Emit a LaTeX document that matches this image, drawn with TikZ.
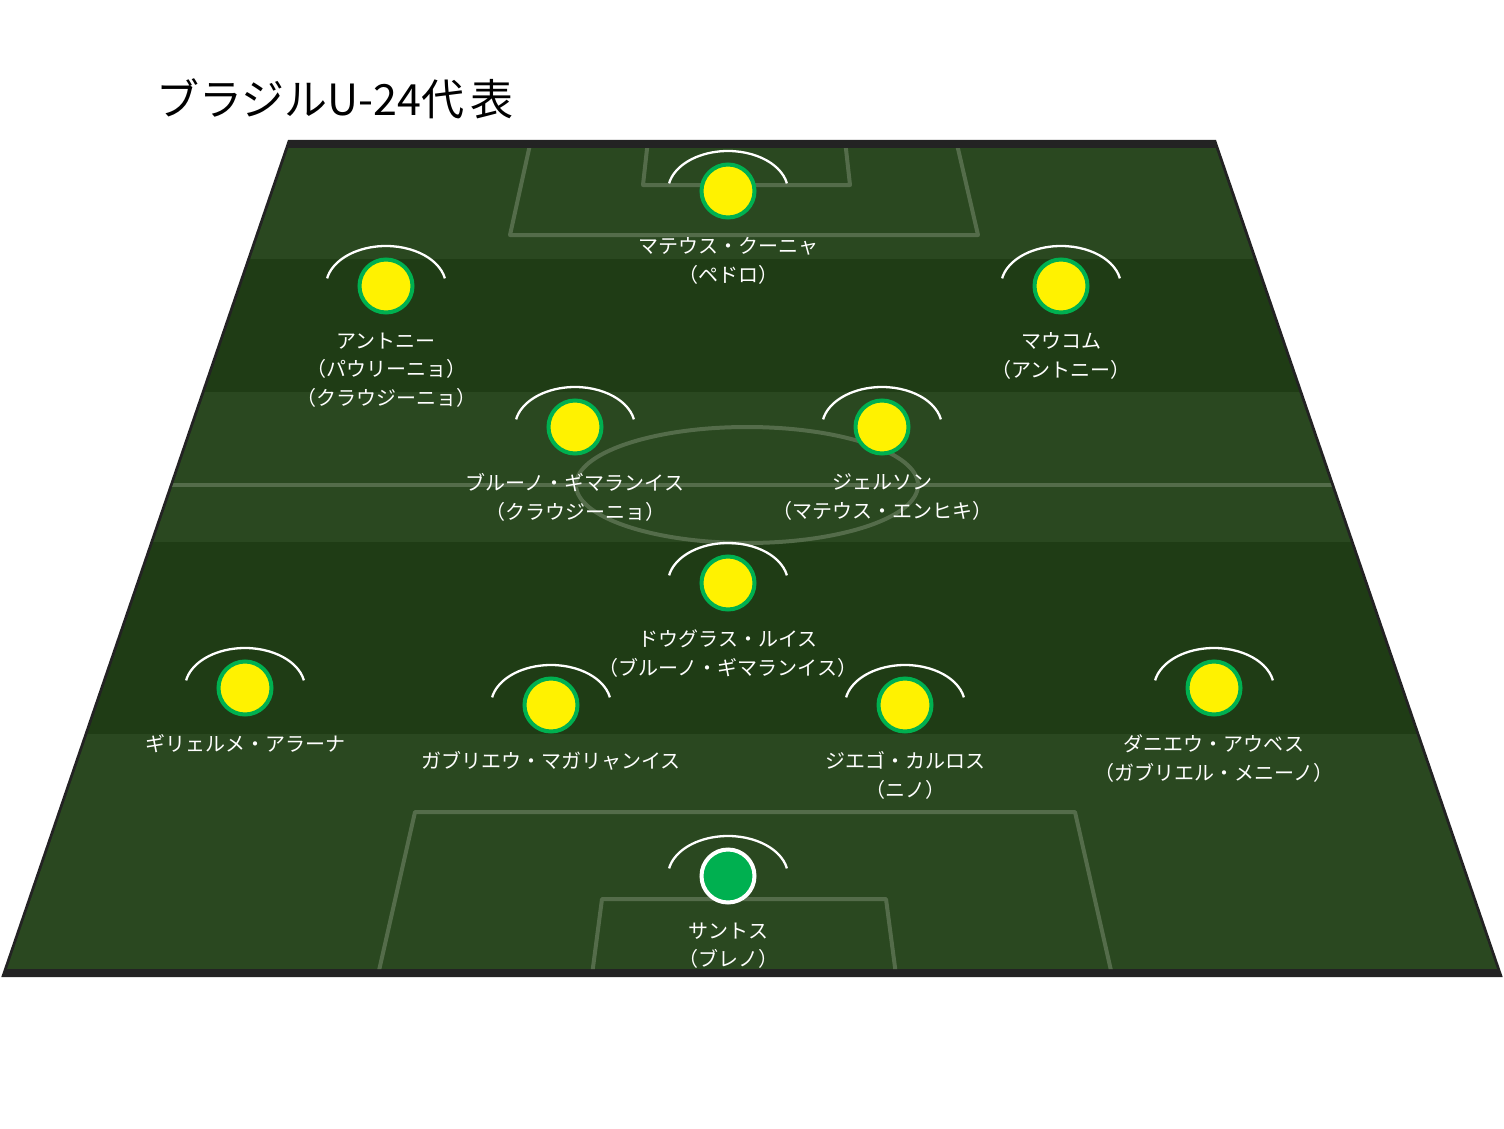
\documentclass[tikz,border=0pt]{standalone}
\usepackage{fontspec}
\setmainfont{Noto Sans CJK JP}
\usetikzlibrary{positioning}

\definecolor{PitchLight}{HTML}{2A4820}
\definecolor{PitchDark}{HTML}{1F3C15}
\definecolor{PitchLine}{HTML}{546C4A}
\definecolor{PitchBorder}{HTML}{232323}
\definecolor{KitGreen}{HTML}{00B050}

\begin{document}
\begin{tikzpicture}[x=1pt,y=-1pt]
\useasboundingbox (0,0) rectangle (1504,1129);
\tikzset{VertexStyle/.style = {shape=circle, fill=yellow, draw=KitGreen,
                               line width=4pt, minimum size=53pt, inner sep=0pt}
  }
\tikzset{KeeperStyle/.style = {VertexStyle, fill=KitGreen, draw=white}}
\tikzset{ArcStyle/.style = {draw=white, line width=2.3pt}}
\tikzset{LineStyle/.style = {draw=PitchLine, line width=4pt, line join=round}}
\tikzset{LabelStyle/.style = {text=white, font=\fontsize{20}{28.5}\selectfont,
                              align=center, inner sep=0pt, below=18pt of #1}}

\node[anchor=west, font=\fontsize{43}{50}\selectfont] (title) at (153,99) {ブラジルU-24代\kern6pt 表};

\fill[PitchBorder] (288,140) -- (1216,140) -- (1502.7,977) -- (1.3,977) -- cycle;
\begin{scope}
\clip (288.3,148) -- (1215.7,148) -- (1497,969) -- (7,969) -- cycle;
\fill[PitchLight] (0,148) rectangle (1504,259);
\fill[PitchDark]  (0,259) rectangle (1504,392);
\fill[PitchLight] (0,392) rectangle (1504,542);
\fill[PitchDark]  (0,542) rectangle (1504,734);
\fill[PitchLight] (0,734) rectangle (1504,969);
%-----------------------------
\draw[LineStyle] (0,485) -- (1504,485);
\draw[LineStyle] (747,485) ellipse[x radius=171, y radius=58];
\draw[LineStyle] (531,140) -- (510,235) -- (978,235) -- (956,140);
\draw[LineStyle] (648,140) -- (643,185) -- (850,185) -- (845,140);
\draw[LineStyle] (378,975) -- (415,812) -- (1075,812) -- (1112,975);
\draw[LineStyle] (592,975) -- (602,899) -- (886,899) -- (896,975);
\end{scope}

\node[VertexStyle] (a0) at (728,191) {};
\node[VertexStyle] (b0) at (386,286) {};
\node[VertexStyle] (b1) at (1061,286) {};
\node[VertexStyle] (c0) at (575,427) {};
\node[VertexStyle] (c1) at (882,427) {};
\node[VertexStyle] (d0) at (728,583) {};
\node[VertexStyle] (e0) at (245,688) {};
\node[VertexStyle] (e1) at (551,705) {};
\node[VertexStyle] (e2) at (905,705) {};
\node[VertexStyle] (e3) at (1214,688) {};
\node[KeeperStyle] (f0) at (728,876) {};

\foreach \v in {a0,b0,b1,c0,c1,d0,e0,e1,e2,e3,f0}
  \draw[ArcStyle] (\v.center) ++(11:60pt and 40pt)
    arc[start angle=11, end angle=169, x radius=60pt, y radius=40pt];

\node[LabelStyle=a0] (a0l) {マテウス・クーニャ\\（ペドロ）};
%-----------------------------
\node[LabelStyle=b0] (b0l) {アントニー\\（パウリーニョ）\\（クラウジーニョ）};
\node[LabelStyle=b1] (b1l) {マウコム\\（アントニー）};
%-----------------------------
\node[LabelStyle=c0] (c0l) {ブルーノ・ギマランイス\\（クラウジーニョ）};
\node[LabelStyle=c1] (c1l) {ジェルソン\\（マテウス・エンヒキ）};
\node[LabelStyle=d0] (d0l) {ドウグラス・ルイス\\（ブルーノ・ギマランイス）};
%-----------------------------
\node[LabelStyle=e0] (e0l) {ギリェルメ・アラーナ};
\node[LabelStyle=e1] (e1l) {ガブリエウ・マガリャンイス};
\node[LabelStyle=e2] (e2l) {ジエゴ・カルロス\\（ニノ）};
\node[LabelStyle=e3] (e3l) {ダニエウ・アウベス\\（ガブリエル・メニーノ）};
%-----------------------------
\node[LabelStyle=f0] (f0l) {サントス\\（ブレノ）};

\end{tikzpicture}
\end{document}
